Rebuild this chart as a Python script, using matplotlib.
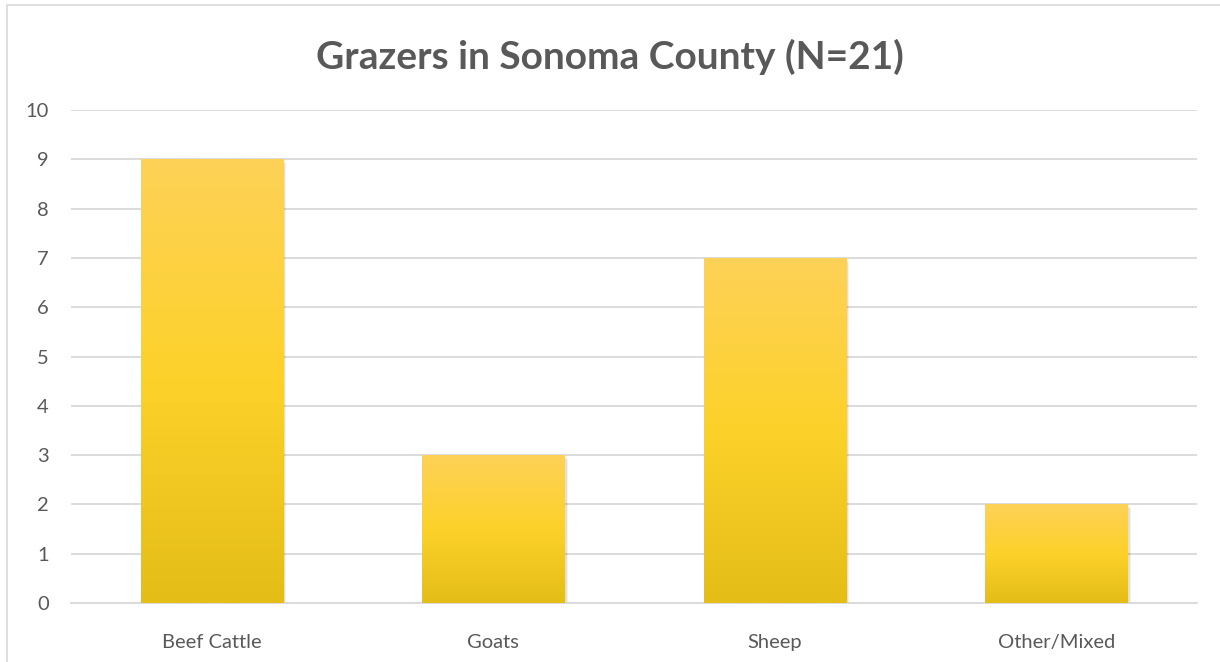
import matplotlib
matplotlib.use("Agg")
import matplotlib.pyplot as plt
import matplotlib.patches as mpatches
from matplotlib.colors import LinearSegmentedColormap
import numpy as np

categories = ["Beef Cattle", "Goats", "Sheep", "Other/Mixed"]
counts = [9, 3, 7, 2]
y_ticks = list(range(0, 11))
title = "Grazers in Sonoma County (N=21)"

W, H = 1220, 662
fig = plt.figure(figsize=(W / 100, H / 100), dpi=100)
ax = fig.add_axes([71 / W, 1 - 603 / H, (1197 - 71) / W, (603 - 110) / H])

# bar gradient: light top, saturated middle, darker bottom
grad = LinearSegmentedColormap.from_list(
    "excel_gold", ["#E4BD17", "#FCD22A", "#FED157"])
gimg = np.linspace(0, 1, 256).reshape(-1, 1)

x = np.arange(len(categories))
width = 0.505
bars = ax.bar(x, counts, width=width, color="none", edgecolor="none", zorder=3)
for b in bars:
    x0, y0 = b.get_x(), b.get_y()
    bw, bh = b.get_width(), b.get_height()
    # soft shadow
    for k, a in enumerate([0.12, 0.08, 0.05]):
        sh = mpatches.Rectangle((x0 + 0.004 * (k + 1), y0 - 0.025 * (k + 1)),
                                bw, bh, facecolor="#000000", alpha=a,
                                edgecolor="none", zorder=2)
        ax.add_patch(sh)
    im = ax.imshow(gimg, cmap=grad, origin="lower", aspect="auto",
                   extent=[x0, x0 + bw, y0, y0 + bh], zorder=3)
    clip = mpatches.Rectangle((x0, y0), bw, bh, transform=ax.transData)
    im.set_clip_path(clip)

ax.set_xlim(-0.5, len(categories) - 0.5)
ax.set_ylim(0, 10)
ax.set_yticks(y_ticks)
ax.set_xticks(x)
ax.set_xticklabels(categories)
ax.grid(axis="y", color="#D9D9D9", linewidth=1.3, zorder=0)
ax.set_axisbelow(True)
for s in ["top", "right", "left"]:
    ax.spines[s].set_visible(False)
ax.spines["bottom"].set_color("#D9D9D9")
ax.spines["bottom"].set_linewidth(1.3)
ax.tick_params(axis="both", length=0, colors="#595959", labelsize=14.5)
ax.tick_params(axis="y", pad=16)
ax.tick_params(axis="x", pad=22)
for lab in ax.get_xticklabels() + ax.get_yticklabels():
    lab.set_family("Lato")

fig.text(0.5, 1 - 57 / H, title, ha="center", va="center",
         fontsize=28, fontweight="bold", color="#595959", family="Lato")

# chart frame
frame = mpatches.Rectangle((7 / W, -0.05), 1.2, 1 - 5 / H + 0.05,
                           transform=fig.transFigure, fill=False,
                           edgecolor="#D9D9D9", linewidth=1.2)
fig.patches.append(frame)

fig.savefig("out.png", dpi=100, facecolor="white")
